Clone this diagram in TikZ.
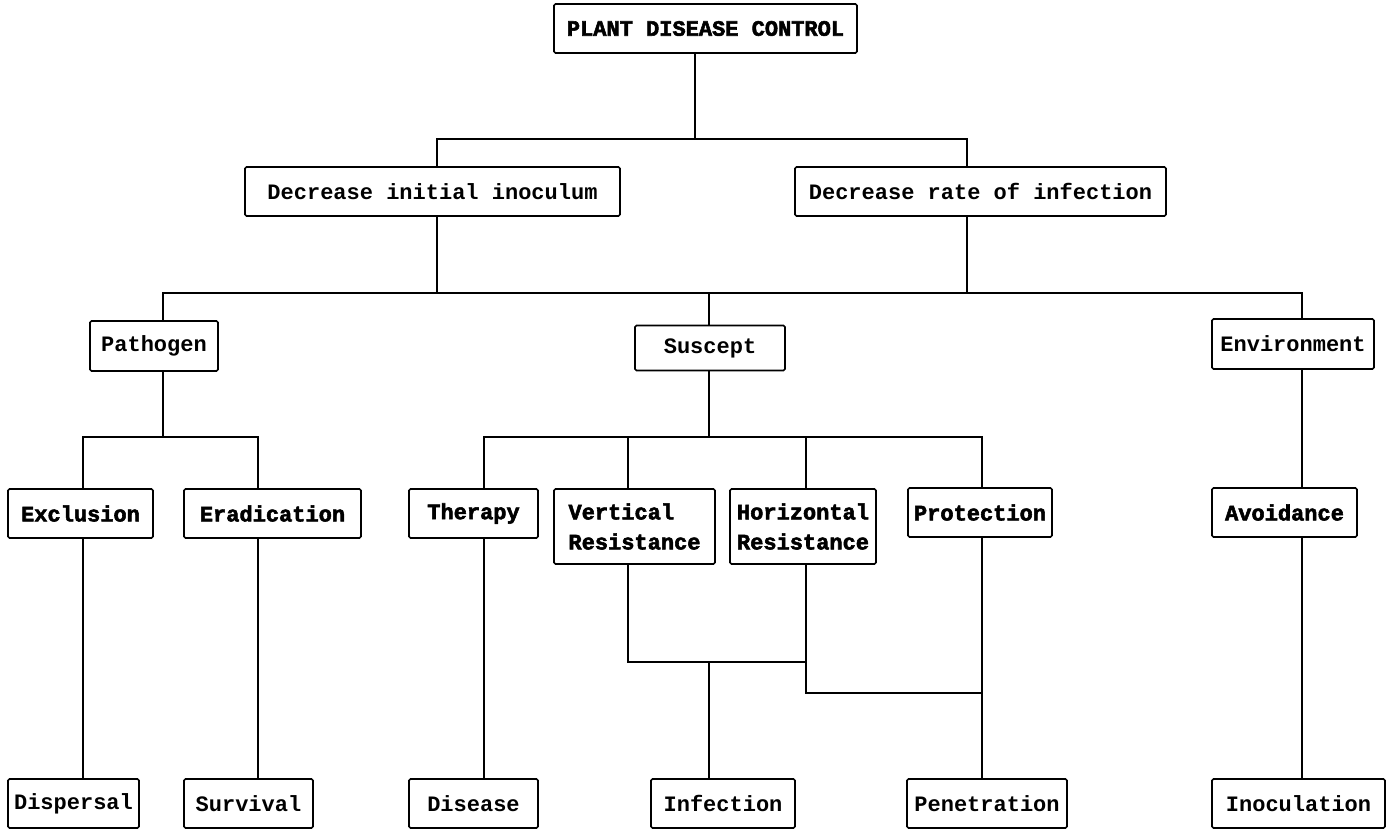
\documentclass[tikz,border=0pt]{standalone}
\usepackage{fontspec}
\newfontfamily\monof{Liberation Mono Bold}
\newfontfamily\monobf[FakeBold=2.5]{Liberation Mono Bold}
\newcommand\regf{\monof\fontsize{22}{30}\selectfont}
\newcommand\bldf{\monobf\fontsize{22}{30}\selectfont}
\tikzset{
  box/.style={draw, line width=1.7pt, rounded corners=1.5pt, inner sep=0pt, font=\regf, align=center},
  bbox/.style={box, font=\bldf, align=left},
  wire/.style={line width=1.6pt, line join=miter}
}
\begin{document}
\begin{tikzpicture}[x=1pt,y=-1pt]
\useasboundingbox (0,0) rectangle (1394,829);
% level 0
\node[bbox, minimum width=303, minimum height=49] (top) at (705.5,28.5) {PLANT DISEASE CONTROL};
% level 1
\node[box, minimum width=375, minimum height=49] (dii) at (432.5,191.5) {Decrease initial inoculum};
\node[box, minimum width=371, minimum height=49] (dri) at (980.5,191.5) {Decrease rate of infection};
% level 2
\node[box, minimum width=128, minimum height=50] (path) at (154,346) {Pathogen};
\node[box, minimum width=150, minimum height=45] (susc) at (710,348) {Suscept};
\node[box, minimum width=162, minimum height=50] (env) at (1293,344) {Environment};
% level 3
\node[bbox, minimum width=145, minimum height=49] (excl) at (80.5,513.5) {Exclusion};
\node[bbox, minimum width=177, minimum height=49] (erad) at (272.5,513.5) {Eradication};
\node[bbox, minimum width=129, minimum height=49] (ther) at (473.5,513.5) {Therapy};
\node[bbox, minimum width=161, minimum height=75] (vr) at (634.5,526.5) {Vertical\\Resistance};
\node[bbox, minimum width=146, minimum height=75] (hr) at (803,526.5) {Horizontal\\Resistance};
\node[bbox, minimum width=144, minimum height=49] (prot) at (980,512.5) {Protection};
\node[bbox, minimum width=145, minimum height=49] (avoid) at (1284.5,512.5) {Avoidance};
% level 4
\node[box, minimum width=131, minimum height=49] (disp) at (73.5,803.5) {Dispersal};
\node[box, minimum width=129, minimum height=49] (surv) at (248.5,803.5) {Survival};
\node[box, minimum width=129, minimum height=49] (dise) at (473.5,803.5) {Disease};
\node[box, minimum width=144, minimum height=49] (infe) at (723,803.5) {Infection};
\node[box, minimum width=160, minimum height=49] (pene) at (987,803.5) {Penetration};
\node[box, minimum width=173, minimum height=49] (inoc) at (1298.5,803.5) {Inoculation};
% connector x positions and junctions
\coordinate (xa) at (437,0);
\coordinate (xb) at (967,0);
\coordinate (xc) at (163,0);
\coordinate (xf) at (1302,0);
\coordinate (xg) at (83,0);
\coordinate (xh) at (258,0);
\coordinate (xi) at (484,0);
\coordinate (xj) at (628,0);
\coordinate (xk) at (806,0);
\coordinate (xl) at (982,0);
\coordinate (j1) at (695,139);
\coordinate (j2) at (709,293);
\coordinate (j3) at (163,437);
\coordinate (j4) at (709,437);
\coordinate (j5) at (709,662);
\coordinate (j6) at (806,693);
% connectors
\draw[wire] (top.south -| j1) -- (j1);
\draw[wire] (dii.north -| xa) |- (j1) -| (dri.north -| xb);
\draw[wire] (dii.south -| xa) -- (xa |- j2);
\draw[wire] (dri.south -| xb) -- (xb |- j2);
\draw[wire] (path.north -| xc) |- (j2) -| (env.north -| xf);
\draw[wire] (j2) -- (susc.north -| j2);
\draw[wire] (path.south -| j3) -- (j3);
\draw[wire] (excl.north -| xg) |- (j3) -| (erad.north -| xh);
\draw[wire] (excl.south -| xg) -- (disp.north -| xg);
\draw[wire] (erad.south -| xh) -- (surv.north -| xh);
\draw[wire] (susc.south -| j4) -- (j4);
\draw[wire] (ther.north -| xi) |- (j4) -| (prot.north -| xl);
\draw[wire] (vr.north -| xj) -- (xj |- j4);
\draw[wire] (hr.north -| xk) -- (xk |- j4);
\draw[wire] (ther.south -| xi) -- (dise.north -| xi);
\draw[wire] (vr.south -| xj) |- (xk |- j5);
\draw[wire] (hr.south -| xk) -- (j6) -- (xl |- j6);
\draw[wire] (j5) -- (infe.north -| j5);
\draw[wire] (prot.south -| xl) -- (pene.north -| xl);
\draw[wire] (env.south -| xf) -- (avoid.north -| xf);
\draw[wire] (avoid.south -| xf) -- (inoc.north -| xf);
\end{tikzpicture}
\end{document}
